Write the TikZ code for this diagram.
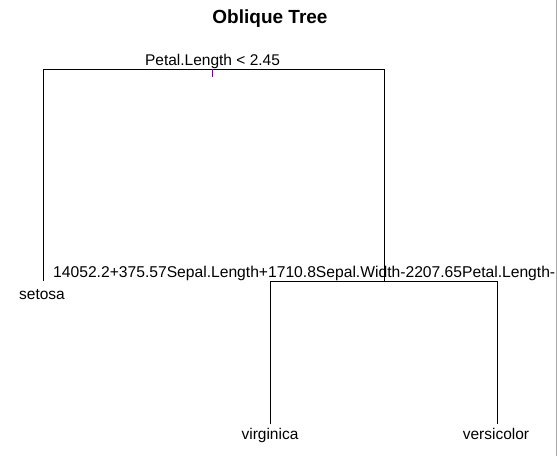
\documentclass[tikz,border=0pt]{standalone}
\usepackage{fontspec}
\setmainfont{Liberation Sans}
\definecolor{tickcol}{rgb}{0.42,0.05,0.55}
\definecolor{edgegray}{rgb}{0.66,0.66,0.66}
\begin{document}
\begin{tikzpicture}[x=1pt,y=-1pt,
  lbl/.style={inner sep=0pt,font=\fontsize{15.5}{18}\selectfont,anchor=base},
  branch/.style={draw=black,line width=0.8pt},
  ttl/.style={inner sep=0pt,font=\fontsize{19}{22}\selectfont\bfseries,anchor=base}]
\useasboundingbox (0,0) rectangle (557,456);
\fill[white] (0,0) rectangle (557,456);
\node[ttl] (title) at (270,23) {Oblique Tree};
% split points
\coordinate (r) at (212,69);
\coordinate (rl) at (43,69);
\coordinate (rr) at (384,69);
\coordinate (rlb) at (43,281);
\coordinate (rrb) at (384,281);
\coordinate (nl) at (270,281);
\coordinate (nr) at (497,281);
\coordinate (nlb) at (270,424);
\coordinate (nrb) at (497,424);
\coordinate (tickend) at (212,77);
\draw[branch] (rlb) -- (rl) -- (rr) -- (rrb);
\draw[branch] (nlb) -- (nl) -- (nr) -- (nrb);
\draw[draw=tickcol,line width=0.8pt] (r) -- (tickend);
\node[lbl] (split1) at (212.5,65) {Petal.Length < 2.45};
\node[lbl,anchor=base west,font=\fontsize{15.65}{18}\selectfont] (split2) at (53,277) {14052.2+375.57Sepal.Length+1710.8Sepal.Width-2207.65Petal.Length-};
\node[lbl] (setosa) at (42,299) {setosa};
\node[lbl] (virg) at (270,439) {virginica};
\node[lbl] (vers) at (496,439) {versicolor};
\fill[edgegray] (555.5,0) rectangle (557,456);
\end{tikzpicture}
\end{document}
